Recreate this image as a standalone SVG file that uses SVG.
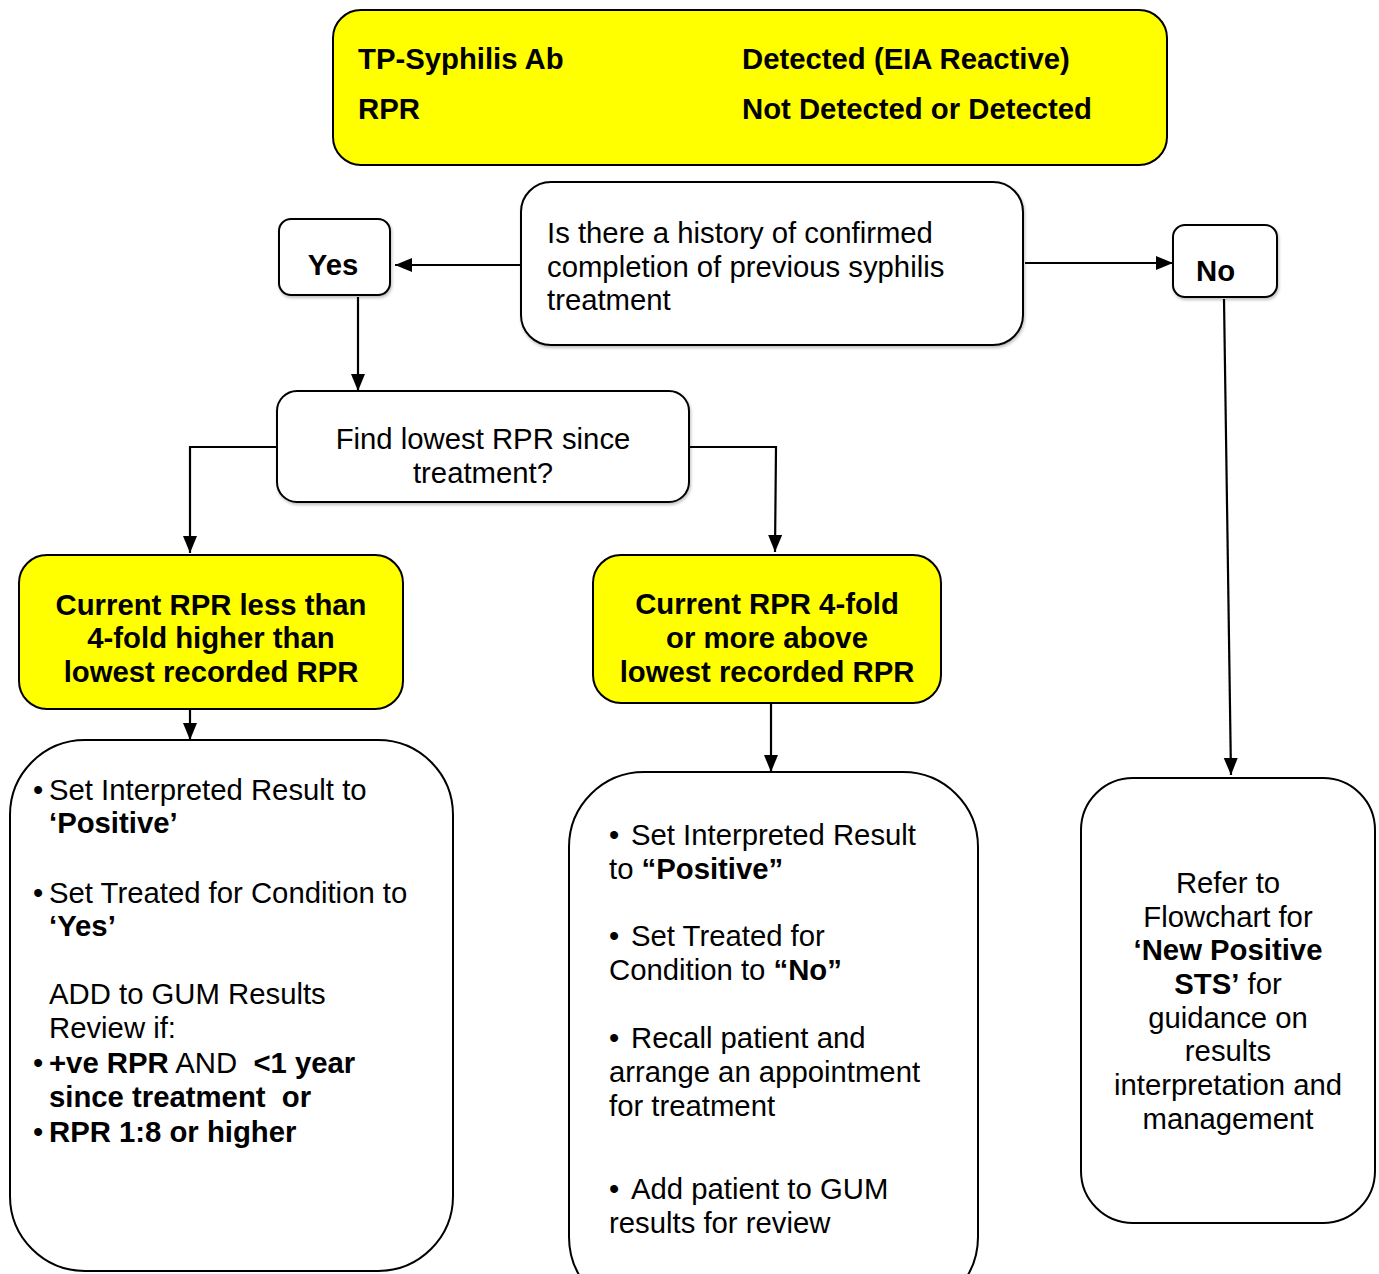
<svg xmlns="http://www.w3.org/2000/svg" width="1379" height="1274" viewBox="0 0 1379 1274">
<defs>
<marker id="arr" markerUnits="userSpaceOnUse" markerWidth="18" markerHeight="18" viewBox="0 0 18 18" refX="17" refY="9" orient="auto">
<path d="M0,2 L17,9 L0,16 Z" fill="#000"/>
</marker>
<filter id="sh" x="-10%" y="-10%" width="120%" height="130%">
<feDropShadow dx="1" dy="2" stdDeviation="1.5" flood-color="#000" flood-opacity="0.25"/>
</filter>
</defs>
<style>
text{font-family:"Liberation Sans",Arial,sans-serif;font-size:29.3px;fill:#000}
.b{font-weight:bold}
.c{text-anchor:middle}
.box{fill:#fff;stroke:#000;stroke-width:2}
.yel{fill:#ffff00;stroke:#000;stroke-width:2}
.ln{fill:none;stroke:#000;stroke-width:2.2}
</style>
<rect width="1379" height="1274" fill="#fff"/>

<g id="top">
<rect class="yel" x="333" y="10" width="834" height="155" rx="28"/>
<text class="b" x="358" y="69">TP-Syphilis Ab</text>
<text class="b" x="742" y="69">Detected (EIA Reactive)</text>
<text class="b" x="358" y="119">RPR</text>
<text class="b" x="742" y="119">Not Detected or Detected</text>
</g>

<g id="question">
<rect class="box" x="521" y="182" width="502" height="163" rx="30" filter="url(#sh)"/>
<text x="547" y="243">Is there a history of confirmed</text>
<text x="547" y="277">completion of previous syphilis</text>
<text x="547" y="310">treatment</text>
</g>

<g id="yes">
<rect class="box" x="279" y="219" width="111" height="76" rx="12" filter="url(#sh)"/>
<text class="b c" x="333" y="275">Yes</text>
</g>

<g id="no">
<rect class="box" x="1173" y="225" width="104" height="72" rx="12" filter="url(#sh)"/>
<text class="b" x="1196" y="281">No</text>
</g>

<g id="find">
<rect class="box" x="277" y="391" width="412" height="111" rx="20" filter="url(#sh)"/>
<text class="c" x="483" y="449">Find lowest RPR since</text>
<text class="c" x="483" y="483">treatment?</text>
</g>

<g id="less">
<rect class="yel" x="19" y="555" width="384" height="154" rx="28"/>
<text class="b c" x="211" y="615">Current RPR less than</text>
<text class="b c" x="211" y="648">4-fold higher than</text>
<text class="b c" x="211" y="682">lowest recorded RPR</text>
</g>

<g id="more">
<rect class="yel" x="593" y="555" width="348" height="148" rx="28"/>
<text class="b c" x="767" y="614">Current RPR 4-fold</text>
<text class="b c" x="767" y="648">or more above</text>
<text class="b c" x="767" y="682">lowest recorded RPR</text>
</g>

<g id="left-actions">
<rect class="box" x="10" y="740" width="443" height="531" rx="75"/>
<text x="33" y="800">•</text>
<text x="49" y="800">Set Interpreted Result to</text>
<text class="b" x="49" y="833">‘Positive’</text>
<text x="33" y="903">•</text>
<text x="49" y="903">Set Treated for Condition to</text>
<text class="b" x="49" y="936">‘Yes’</text>
<text x="49" y="1004">ADD to GUM Results</text>
<text x="49" y="1038">Review if:</text>
<text x="33" y="1073">•</text>
<text x="49" y="1073" xml:space="preserve"><tspan class="b">+ve RPR</tspan> AND  <tspan class="b">&lt;1 year</tspan></text>
<text class="b" x="49" y="1107" xml:space="preserve">since treatment  or</text>
<text x="33" y="1142">•</text>
<text class="b" x="49" y="1142">RPR 1:8 or higher</text>
</g>

<g id="middle-actions">
<rect class="box" x="569" y="772" width="409" height="540" rx="75"/>
<text x="609" y="845">•</text>
<text x="631" y="845">Set Interpreted Result</text>
<text x="609" y="879">to <tspan class="b">“Positive”</tspan></text>
<text x="609" y="946">•</text>
<text x="631" y="946">Set Treated for</text>
<text x="609" y="980">Condition to <tspan class="b">“No”</tspan></text>
<text x="609" y="1048">•</text>
<text x="631" y="1048">Recall patient and</text>
<text x="609" y="1082">arrange an appointment</text>
<text x="609" y="1116">for treatment</text>
<text x="609" y="1199">•</text>
<text x="631" y="1199">Add patient to GUM</text>
<text x="609" y="1233">results for review</text>
</g>

<g id="refer">
<rect class="box" x="1081" y="778" width="294" height="445" rx="52"/>
<text class="c" x="1228" y="893">Refer to</text>
<text class="c" x="1228" y="927">Flowchart for</text>
<text class="c b" x="1228" y="960">‘New Positive</text>
<text class="c" x="1228" y="994"><tspan class="b">STS’</tspan> for</text>
<text class="c" x="1228" y="1028">guidance on</text>
<text class="c" x="1228" y="1061">results</text>
<text class="c" x="1228" y="1095">interpretation and</text>
<text class="c" x="1228" y="1129">management</text>
</g>

<g id="connectors">
<path class="ln" d="M521,265 H395" marker-end="url(#arr)"/>
<path class="ln" d="M1025,263 H1173" marker-end="url(#arr)"/>
<path class="ln" d="M358,297 V391" marker-end="url(#arr)"/>
<path class="ln" d="M1224,299 L1231,775" marker-end="url(#arr)"/>
<path class="ln" d="M277,447 H190 V553" marker-end="url(#arr)"/>
<path class="ln" d="M689,447 H776 L775,552" marker-end="url(#arr)"/>
<path class="ln" d="M190,709 V740" marker-end="url(#arr)"/>
<path class="ln" d="M771,703 V772" marker-end="url(#arr)"/>
</g>
</svg>
